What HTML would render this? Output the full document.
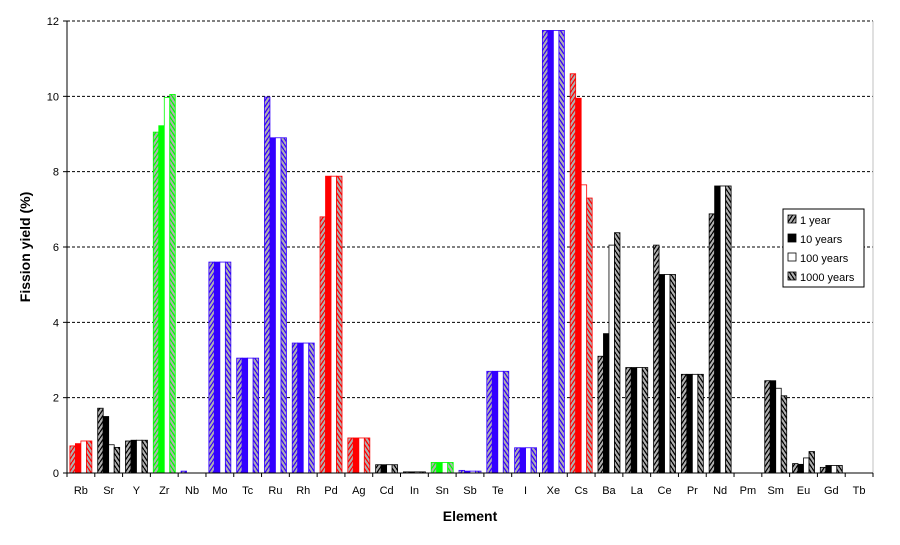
<!DOCTYPE html>
<html><head><meta charset="utf-8"><style>
body{margin:0;background:#fff;}
svg{display:block;font-family:"Liberation Sans",Arial,sans-serif;}
</style></head><body>
<svg id="chart" width="900" height="545">
<defs id="defs"></defs>
<g id="grid"></g><g id="bars"></g><g id="axes"></g>
<text x="30" y="247" transform="rotate(-90 30 247)" text-anchor="middle" font-size="14" font-weight="bold">Fission yield (%)</text>
<text x="470" y="521" text-anchor="middle" font-size="14" font-weight="bold">Element</text>
<g>
<rect x="783" y="209" width="81" height="78" fill="#fff" stroke="#000" stroke-width="1"/>
<g id="legend"></g>
</g>
</svg>
<script>
const categories=["Rb","Sr","Y","Zr","Nb","Mo","Tc","Ru","Rh","Pd","Ag","Cd","In","Sn","Sb","Te","I","Xe","Cs","Ba","La","Ce","Pr","Nd","Pm","Sm","Eu","Gd","Tb"];
const colorKeys=["r","k","k","g","b","b","b","b","b","r","r","k","k","g","b","b","b","b","r","k","k","k","k","k","k","k","k","k","k"];
const year1=[0.72,1.72,0.85,9.05,0.05,5.6,3.05,9.98,3.45,6.8,0.93,0.22,0.03,0.28,0.07,2.7,0.67,11.75,10.6,3.1,2.8,6.05,2.62,6.88,0,2.45,0.25,0.15,0];
const year10=[0.78,1.5,0.87,9.22,0,5.6,3.05,8.9,3.45,7.88,0.93,0.22,0.03,0.28,0.05,2.7,0.67,11.75,9.95,3.7,2.8,5.27,2.62,7.62,0,2.45,0.23,0.2,0];
const year100=[0.85,0.75,0.87,9.97,0,5.6,3.05,8.9,3.45,7.88,0.93,0.22,0.03,0.28,0.05,2.7,0.67,11.75,7.65,6.05,2.8,5.27,2.62,7.62,0,2.25,0.4,0.2,0];
const year1000=[0.85,0.68,0.87,10.05,0,5.6,3.05,8.9,3.45,7.88,0.93,0.22,0.03,0.28,0.05,2.7,0.67,11.75,7.3,6.38,2.8,5.27,2.62,7.62,0,2.05,0.57,0.2,0];
const seriesNames=["1 year","10 years","100 years","1000 years"];
const yTicks=[0,2,4,6,8,10,12];
const NS="http://www.w3.org/2000/svg";
const X0=67,X1=873,Y0=473,Y1=21,YMAX=12;
const n=categories.length;
const cw=(X1-X0)/(n-1+0.0);
const bandW=(X1-X0)/n;
const xBand=i=>X0+bandW*i;
const y=v=>Y0-(v/YMAX)*(Y0-Y1);
const cols={r:"#ff0000",k:"#000000",g:"#00ff00",b:"#3300ff"};
function mk(t,a,p){const e=document.createElementNS(NS,t);for(const k in a)e.setAttribute(k,a[k]);(p||document.getElementById("chart")).appendChild(e);return e;}
const defs=document.getElementById("defs");
for(const k in cols){
 const c=cols[k];
 ["f","b"].forEach(d=>{
  const p=mk("pattern",{id:"h"+d+k,width:"4",height:"6",patternUnits:"userSpaceOnUse"},defs);
  mk("rect",{width:"4",height:"6",fill:"#b0b0b0"},p);
  mk("path",{d:d==="f"?"M0,6 L4,0 M-2,3 L0,0 M4,6 L6,3":"M0,0 L4,6 M-2,3 L0,6 M4,0 L6,3",stroke:c,"stroke-width":"1.3"},p);
 });
}
const grid=document.getElementById("grid");
yTicks.forEach(t=>{
 if(t>0){const l=mk("line",{x1:X0,x2:X1,y1:y(t),y2:y(t),stroke:"#000","stroke-dasharray":"3,2","stroke-width":"1"},grid);
 
 }
 const tx=mk("text",{x:X0-8,y:y(t)+4,"text-anchor":"end","font-size":"11"},grid);
 tx.textContent=t;
 
 
 mk("line",{x1:X0-4,x2:X0,y1:y(t),y2:y(t),stroke:"#000"},grid);
});
mk("line",{x1:X1,x2:X1,y1:Y1,y2:Y0,stroke:"#c0c0c0"},grid);
const bars=document.getElementById("bars");
const series=[year1,year10,year100,year1000];
const bw=5.5;
categories.forEach((cat,i)=>{
 const k=colorKeys[i],c=cols[k];
 const cx=xBand(i)+bandW/2;
 series.forEach((s,j)=>{
  const v=s[i]; if(v<=0) return;
  const fill=j===0?"url(#hf"+k+")":j===1?c:j===2?"#fff":"url(#hb"+k+")";
  const r=mk("rect",{x:cx-2*bw+j*bw,y:y(v),width:bw,height:Y0-y(v),fill:fill,stroke:c,"stroke-width":"0.8"},bars);
  
  
 });
 const t=mk("text",{x:cx,y:494,"text-anchor":"middle","font-size":"11"},bars);
 t.textContent=cat;
 
 
});
const axes=document.getElementById("axes");
mk("line",{x1:X0,x2:X0,y1:Y1,y2:Y0,stroke:"#000"},axes);
mk("line",{x1:X0,x2:X1,y1:Y0,y2:Y0,stroke:"#000"},axes);
for(let i=0;i<=n;i++)mk("line",{x1:xBand(i),x2:xBand(i),y1:Y0,y2:Y0+4,stroke:"#000"},axes);
const lg=document.getElementById("legend");
const lf=["url(#hfk)","#000","#fff","url(#hbk)"];
seriesNames.forEach((nm,j)=>{
 const yy=220+j*19;
 mk("rect",{x:788,y:yy-5,width:8,height:8,fill:lf[j],stroke:"#000","stroke-width":"0.8"},lg);
 const t=mk("text",{x:800,y:yy+4,"font-size":"11"},lg);
 t.textContent=nm;
 
 
});
</script>
</body></html>
